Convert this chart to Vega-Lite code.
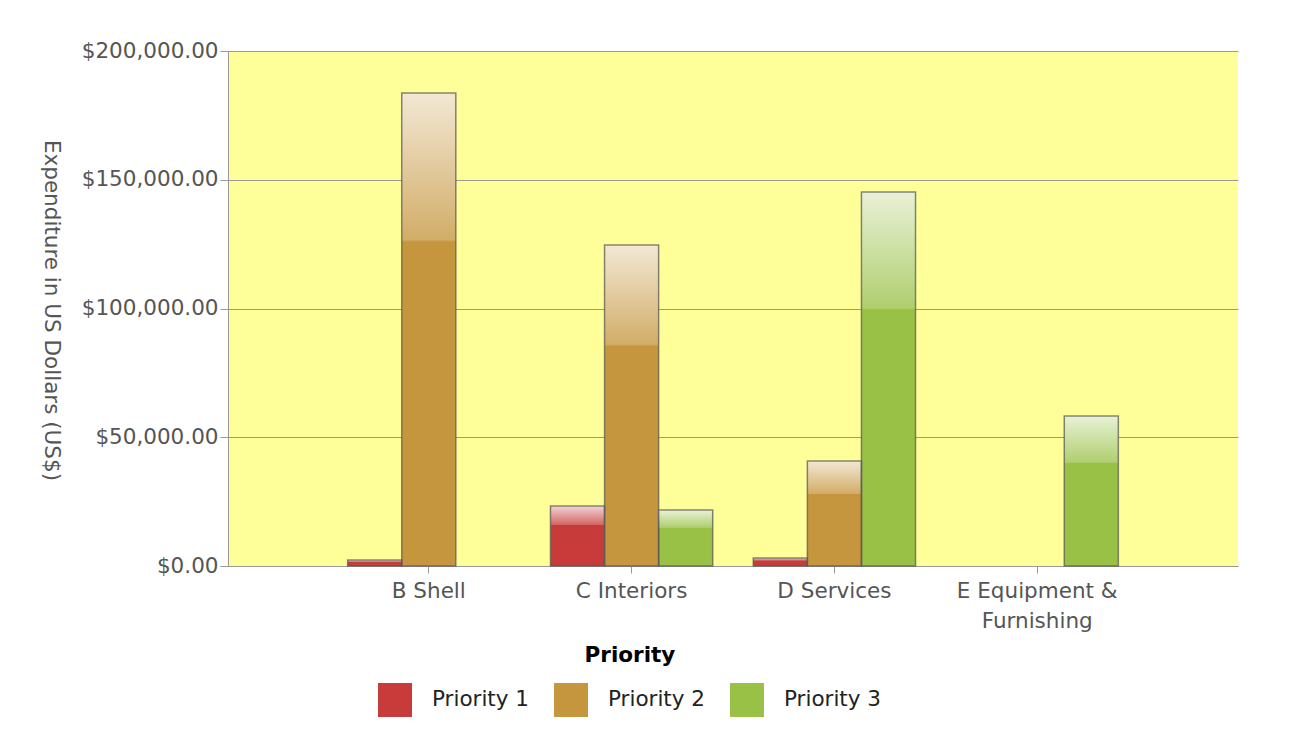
{
  "$schema": "https://vega.github.io/schema/vega-lite/v6.json",
  "width": 1010,
  "height": 515,
  "autosize": {"type": "none"},
  "padding": {"left": 228, "top": 51, "right": 72, "bottom": 168},
  "background": "#ffffff",
  "config": {
    "font": "DejaVu Sans",
    "view": {"fill": "#ffff99", "stroke": null},
    "axis": {"labelFont": "DejaVu Sans", "titleFont": "DejaVu Sans"}
  },
  "data": {
    "values": [
      {"category": "B Shell", "priority": "Priority 1", "amount": 2300},
      {"category": "B Shell", "priority": "Priority 2", "amount": 183700},
      {"category": "C Interiors", "priority": "Priority 1", "amount": 23300},
      {"category": "C Interiors", "priority": "Priority 2", "amount": 124700},
      {"category": "C Interiors", "priority": "Priority 3", "amount": 21700},
      {"category": "D Services", "priority": "Priority 1", "amount": 3100},
      {"category": "D Services", "priority": "Priority 2", "amount": 40800},
      {"category": "D Services", "priority": "Priority 3", "amount": 145200},
      {"category": "E Equipment & Furnishing", "priority": "Priority 3", "amount": 58300}
    ]
  },
  "encoding": {
    "x": {
      "field": "category",
      "type": "nominal",
      "sort": ["B Shell", "C Interiors", "D Services", "E Equipment & Furnishing"],
      "scale": {"paddingInner": 0.2, "paddingOuter": 0.59},
      "axis": {
        "title": null,
        "labelAngle": 0,
        "labelFontSize": 21.5,
        "labelColor": "#555555",
        "labelPadding": 7,
        "labelLineHeight": 30,
        "labelBaseline": "top",
        "labelExpr": "datum.label == 'E Equipment & Furnishing' ? ['E Equipment &', 'Furnishing'] : datum.label",
        "tickSize": 7,
        "tickColor": "#999999",
        "domainColor": "#999999",
        "domainWidth": 1,
        "labelLimit": 300
      }
    },
    "xOffset": {
      "field": "priority",
      "type": "nominal",
      "sort": ["Priority 1", "Priority 2", "Priority 3"]
    },
    "y": {
      "field": "amount",
      "type": "quantitative",
      "scale": {"domain": [0, 200000], "nice": false},
      "axis": {
        "title": "Expenditure in US Dollars (US$)",
        "titleAngle": 90,
        "titleFontSize": 21.5,
        "titleFontWeight": "normal",
        "titleColor": "#555555",
        "titleX": -178,
        "titleY": 259,
        "titleAlign": "center",
        "titleBaseline": "middle",
        "values": [0, 50000, 100000, 150000, 200000],
        "format": "$,.2f",
        "labelFontSize": 21.5,
        "labelColor": "#555555",
        "labelPadding": 2,
        "tickSize": 8,
        "tickColor": "#999999",
        "domainColor": "#999999",
        "gridColor": "#999999",
        "gridWidth": 1
      }
    }
  },
  "layer": [
    {
      "mark": {"type": "bar", "strokeWidth": 0},
      "encoding": {
        "color": {
          "field": "priority",
          "type": "nominal",
          "scale": {
            "domain": ["Priority 1", "Priority 2", "Priority 3"],
            "range": ["#c83b3b", "#c6963e", "#99c146"]
          },
          "legend": {
            "title": "Priority",
            "orient": "none",
            "legendX": 150,
            "legendY": 594,
            "direction": "horizontal",
            "padding": 0,
            "titleFontSize": 21.5,
            "titleFontWeight": "bold",
            "titleColor": "#000000",
            "titleAnchor": "middle",
            "titlePadding": 16.5,
            "labelFontSize": 21.5,
            "labelColor": "#222222",
            "labelOffset": 20,
            "columnPadding": 24,
            "symbolType": "square",
            "symbolSize": 1156,
            "symbolStrokeWidth": 0,
            "symbolOpacity": 1
          }
        }
      }
    },
    {
      "mark": {
        "type": "bar",
        "stroke": "#555555",
        "strokeOpacity": 0.7,
        "strokeWidth": 1.5,
        "fill": {
          "gradient": "linear",
          "x1": 0, "y1": 0, "x2": 0, "y2": 1,
          "stops": [
            {"offset": 0, "color": "rgba(255,255,255,0.78)"},
            {"offset": 0.31, "color": "rgba(255,255,255,0.22)"},
            {"offset": 0.315, "color": "rgba(255,255,255,0)"},
            {"offset": 1, "color": "rgba(255,255,255,0)"}
          ]
        }
      },
      "encoding": {}
    }
  ]
}
